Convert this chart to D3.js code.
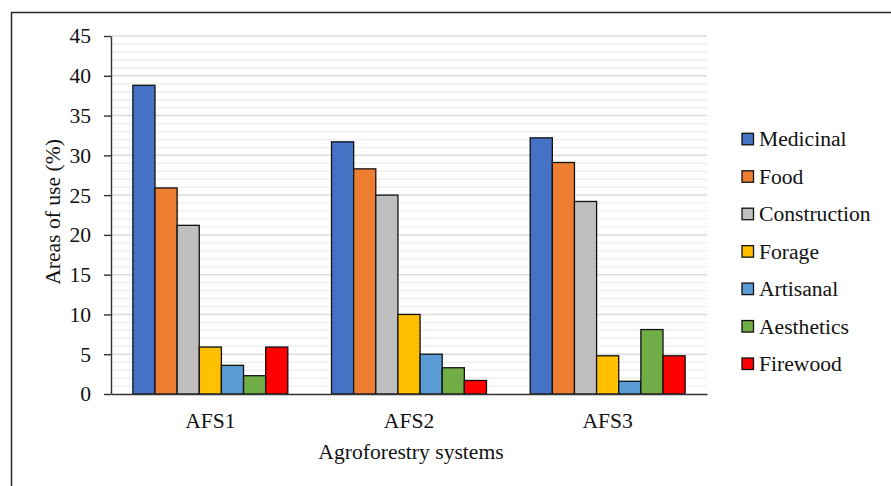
<!DOCTYPE html>
<html>
<head>
<meta charset="utf-8">
<script src="https://cdn.jsdelivr.net/npm/d3@7/dist/d3.min.js"></script>
<style>
  html, body { margin: 0; padding: 0; background: #fff; }
  svg { display: block; }
  svg text { font-family: "Liberation Serif", "Times New Roman", Tinos, "DejaVu Serif", "Noto Serif", serif !important; fill: #111; }
</style>
</head>
<body>
<div id="chart"></div>
<script>
const categories = ["AFS1", "AFS2", "AFS3"];
const seriesNames = ["Medicinal", "Food", "Construction", "Forage", "Artisanal", "Aesthetics", "Firewood"];
const medicinal    = [38.8, 31.7, 32.2];
const food         = [25.9, 28.3, 29.1];
const construction = [21.2, 25.0, 24.2];
const forage       = [5.9, 10.0, 4.8];
const artisanal    = [3.6, 5.0, 1.6];
const aesthetics   = [2.3, 3.3, 8.1];
const firewood     = [5.9, 1.7, 4.8];
const yTicks = [0, 5, 10, 15, 20, 25, 30, 35, 40, 45];
const seriesColors = ["#4472C4", "#ED7D31", "#BFBFBF", "#FFC000", "#5B9BD5", "#70AD47", "#FF0000"];

const seriesValues = [medicinal, food, construction, forage, artisanal, aesthetics, firewood];

(function () {
const W = 891, H = 486;
const FS = "21.6px";
const svg = d3.select("#chart").append("svg").attr("width", W).attr("height", H);

// outer border
svg.append("rect")
  .attr("x", 11.5).attr("y", 12.5).attr("width", 900).attr("height", 500)
  .attr("fill", "none").attr("stroke", "#262626").attr("stroke-width", 1.5);

const pLeft = 111, pRight = 707, pTop = 36, pBottom = 394;
const y = d3.scaleLinear().domain([0, 45]).range([pBottom, pTop]);
const x0 = d3.scaleBand().domain(categories).range([pLeft, pRight]).paddingInner(0.22).paddingOuter(0.11);
const x1 = d3.scaleBand().domain(seriesNames).range([0, x0.bandwidth()]).padding(0);

// minor gridlines
const minor = d3.range(1, 45).filter(v => v % 5 !== 0);
svg.append("g").selectAll("line").data(minor).join("line")
  .attr("x1", pLeft).attr("x2", pRight)
  .attr("y1", d => y(d)).attr("y2", d => y(d))
  .attr("stroke", "#f0f0f0").attr("stroke-width", 1.5);
// major gridlines
svg.append("g").selectAll("line").data(yTicks.filter(v => v > 0)).join("line")
  .attr("x1", pLeft).attr("x2", pRight)
  .attr("y1", d => y(d)).attr("y2", d => y(d))
  .attr("stroke", "#dcdcdc").attr("stroke-width", 1.5);

// bars
const groups = svg.append("g").selectAll("g").data(categories).join("g")
  .attr("transform", d => `translate(${x0(d)},0)`);
groups.selectAll("rect")
  .data((c, ci) => seriesNames.map((s, si) => ({ s, si, v: seriesValues[si][ci] })))
  .join("rect")
  .attr("x", d => x1(d.s))
  .attr("width", x1.bandwidth())
  .attr("y", d => y(d.v))
  .attr("height", d => y(0) - y(d.v))
  .attr("fill", d => seriesColors[d.si])
  .attr("stroke", "#111").attr("stroke-width", 1.3);

// y axis
const yAxis = svg.append("g").attr("transform", `translate(${pLeft},0)`)
  .call(d3.axisLeft(y).tickValues(yTicks).tickSize(7).tickSizeOuter(0).tickPadding(13));
yAxis.attr("font-family", null);
yAxis.selectAll("path, line").attr("stroke", "#333").attr("stroke-width", 1.4);
yAxis.selectAll("text").style("font-size", FS).attr("fill", "#111");

// x axis
const xAxis = svg.append("g").attr("transform", `translate(0,${pBottom})`)
  .call(d3.axisBottom(x0).tickSize(0).tickSizeOuter(0));
xAxis.attr("font-family", null);
xAxis.select("path").attr("stroke", "#333").attr("stroke-width", 1.6);
xAxis.selectAll("text").attr("dy", 0).attr("y", 34)
  .style("font-size", FS).attr("fill", "#111");

// axis titles
svg.append("text")
  .attr("x", (pLeft + pRight) / 2 + 2).attr("y", 459)
  .attr("text-anchor", "middle").style("font-size", FS)
  .text("Agroforestry systems");
svg.append("text")
  .attr("transform", `translate(60,${(pTop + pBottom) / 2 - 3}) rotate(-90)`)
  .attr("text-anchor", "middle").style("font-size", FS)
  .text("Areas of use (%)");

// legend
const legend = svg.append("g").selectAll("g").data(seriesNames).join("g")
  .attr("transform", (d, i) => `translate(742,${139.3 + i * 37.45})`);
legend.append("rect")
  .attr("x", 0).attr("y", -6).attr("width", 11.5).attr("height", 11.5)
  .attr("fill", (d, i) => seriesColors[i]).attr("stroke", "#111").attr("stroke-width", 1.3);
legend.append("text")
  .attr("x", 17).attr("y", 7).style("font-size", FS)
  .text(d => d);
})();
</script>
</body>
</html>
